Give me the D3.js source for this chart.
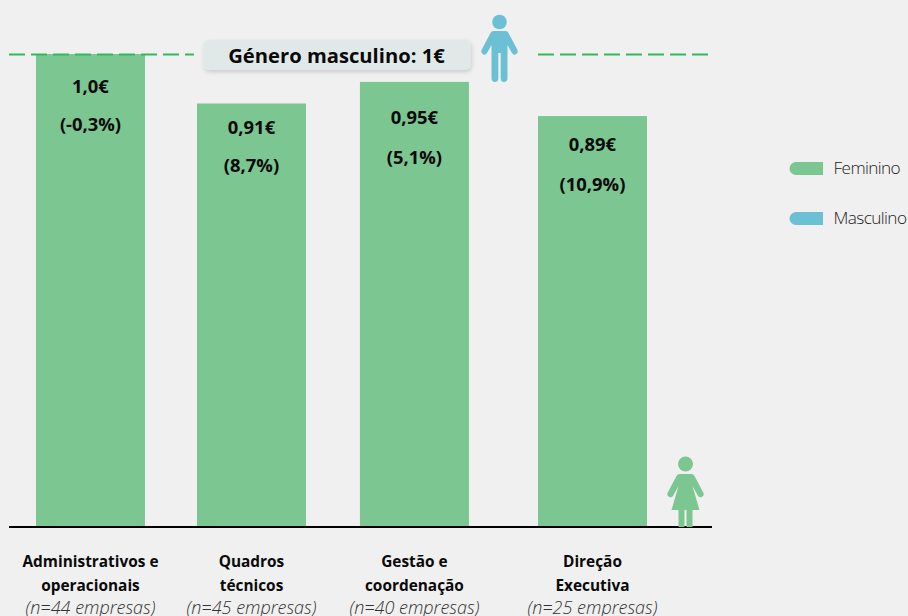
<!DOCTYPE html>
<html><head><meta charset="utf-8">
<script src="https://cdnjs.cloudflare.com/ajax/libs/d3/7.8.5/d3.min.js"></script>
<style>html,body{margin:0;padding:0;background:#f0f0f0}svg{display:block}text{font-family:"Open Sans",sans-serif}</style>
</head><body><svg id="c" width="908" height="616"></svg>
<script>
const categoriesLine1 = ["Administrativos e","Quadros","Gestão e","Direção"];
const categoriesLine2 = ["operacionais","técnicos","coordenação","Executiva"];
const sampleNotes = ["(n=44 empresas)","(n=45 empresas)","(n=40 empresas)","(n=25 empresas)"];
const slots = [0,1,2.012,3.118];
const values = [1.0,0.913,0.951,0.891];
const valueLabels = ["1,0€","0,91€","0,95€","0,89€"];
const gapLabels = ["(-0,3%)","(8,7%)","(5,1%)","(10,9%)"];
const legendNames = ["Feminino","Masculino"];
const reference = 1;
const green="#7cc692", blue="#6cc0d4", dash="#2fba5c";

const svg=d3.select("#c");
const x=d3.scaleLinear().domain([0,3]).range([90.5,573.5]);
const y=d3.scaleLinear().domain([0.169,1]).range([527,54]);
const barW=109;

svg.selectAll("rect.bar").data(values).join("rect").attr("class","bar")
  .attr("x",(d,i)=>x(slots[i])-barW/2).attr("width",barW)
  .attr("y",d=>y(d)).attr("height",d=>y.range()[0]-y(d)).attr("fill",green);

[[9,194],[538,708]].forEach(([a,b])=>svg.append("line").attr("x1",a).attr("x2",b)
  .attr("y1",y(reference)+0.5).attr("y2",y(reference)+0.5).attr("stroke",dash).attr("stroke-width",2).attr("stroke-dasharray","16 6"));

svg.append("line").attr("x1",9).attr("x2",712).attr("y1",527).attr("y2",527).attr("stroke","#000").attr("stroke-width",2);

const defs=svg.append("defs");
const f=defs.append("filter").attr("id","s").attr("x","-10%").attr("y","-30%").attr("width","120%").attr("height","170%");
f.append("feDropShadow").attr("dx",1).attr("dy",2).attr("stdDeviation",2).attr("flood-color","#000").attr("flood-opacity",.16);
svg.append("rect").attr("x",203.5).attr("y",40).attr("width",267).attr("height",30).attr("rx",5).attr("fill","#e1e9e8").attr("filter","url(#s)");
svg.append("text").attr("x",336.5).attr("y",62.5).attr("text-anchor","middle").attr("font-size",20.2).attr("font-weight",700).attr("fill","#0a0a0a").text("Género masculino: 1€");

const off1=[39,30,42.5,35], off2=[77,68,82.5,74.5];
svg.selectAll("text.v").data(values).join("text").attr("class","v")
  .attr("x",(d,i)=>x(slots[i])).attr("y",(d,i)=>y(d)+off1[i]).attr("text-anchor","middle")
  .attr("font-size",18.4).attr("font-weight",700).attr("fill","#0a0a0a").text((d,i)=>valueLabels[i]);
svg.selectAll("text.g").data(values).join("text").attr("class","g")
  .attr("x",(d,i)=>x(slots[i])).attr("y",(d,i)=>y(d)+off2[i]).attr("text-anchor","middle")
  .attr("font-size",18.4).attr("font-weight",700).attr("fill","#0a0a0a").text((d,i)=>gapLabels[i]);

categoriesLine1.forEach((c,i)=>{
  const cx=x(slots[i]);
  svg.append("text").attr("x",cx).attr("y",566.5).attr("text-anchor","middle").attr("font-size",15.4).attr("font-weight",700).attr("fill","#0a0a0a").text(c);
  svg.append("text").attr("x",cx).attr("y",590.5).attr("text-anchor","middle").attr("font-size",15.4).attr("font-weight",700).attr("fill","#0a0a0a").text(categoriesLine2[i]);
  svg.append("text").attr("x",cx).attr("y",614).attr("text-anchor","middle").attr("font-size",18).attr("font-style","italic").attr("font-weight",300).attr("fill","#333").text(sampleNotes[i]);
});

[green,blue].forEach((col,i)=>{
  const ty=162+i*50;
  svg.append("path").attr("d",`M823 ${ty}H796a6.5 6.5 0 0 0 0 13H823Z`).attr("fill",col);
  svg.append("text").attr("x",833.5).attr("y",ty+11.5).attr("font-size",17.2).attr("font-weight",300).attr("letter-spacing",-0.6).attr("fill","#222").text(legendNames[i]);
});

function man(g){
  g.append("circle").attr("cx",0).attr("cy",-13).attr("r",7.3);
  g.append("path").attr("d","M-6 -4H6Q8 -4 9 -2L18 15Q19 18 16 19.5Q14 20.5 12.5 18L8 10V43Q8 47 4.5 47Q1.2 47 1.2 43V18H-1.2V43Q-1.2 47 -4.5 47Q-8 47 -8 43V10L-12.5 18Q-14 20.5 -16 19.5Q-19 18 -18 15L-9 -2Q-8 -4 -6 -4Z");
}
function woman(g){
  g.append("circle").attr("cx",0).attr("cy",0).attr("r",7.5);
  g.append("path").attr("d","M-6 10H6Q8 10 9 12L18 29Q19 32 16 33Q14 34 12.5 32L7 22L14 46H7V63H1V46H-1V63H-7V46H-14L-7 22L-12.5 32Q-14 34 -16 33Q-19 32 -18 29L-9 12Q-8 10 -6 10Z");
}
man(svg.append("g").attr("transform","translate(499.5,35)").attr("fill",blue));
woman(svg.append("g").attr("transform","translate(685.5,464)").attr("fill",green));
</script></body></html>
